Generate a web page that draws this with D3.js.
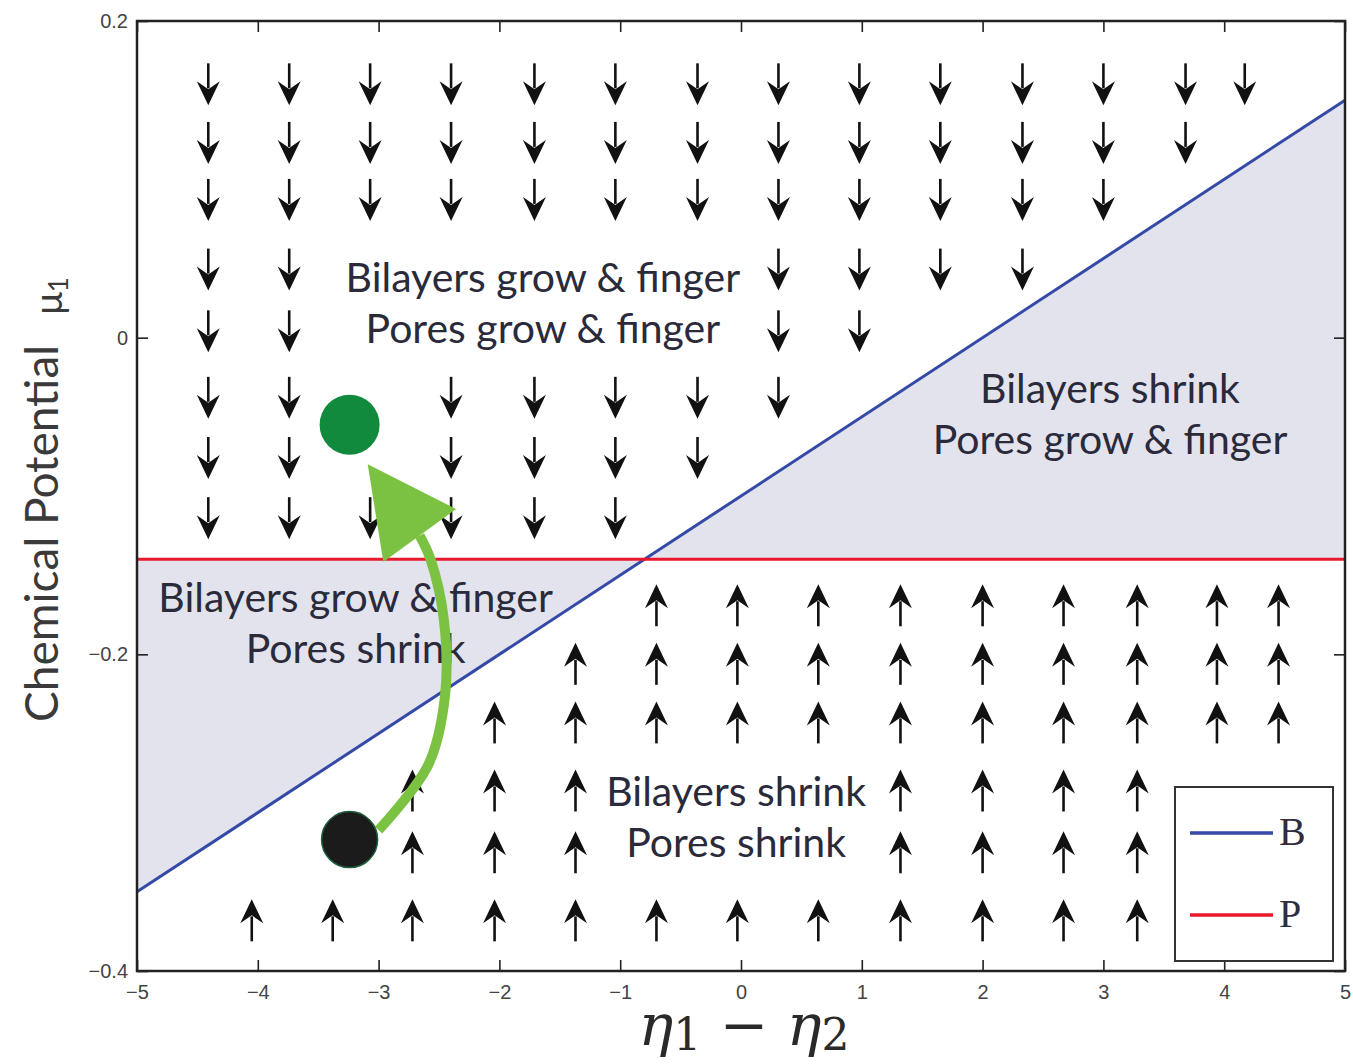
<!DOCTYPE html>
<html>
<head>
<meta charset="utf-8">
<script src="https://cdn.jsdelivr.net/npm/d3@7"></script>
<style>
  html, body { margin: 0; padding: 0; background: #fff; }
  svg { display: block; }
</style>
</head>
<body>
<div id="chart"></div>
<script>
// Data
const xTicks = [-5, -4, -3, -2, -1, 0, 1, 2, 3, 4, 5];
const yTicks = [-0.4, -0.2, 0, 0.2];

const boundaryB = [[-5, -0.35], [5, 0.15]]; // bilayer boundary
const levelP = -0.14; // pore boundary

// quiver arrows, one entry per row
const downRows = [
  { mu: 0.160, xs: [-4.41, -3.74, -3.07, -2.40, -1.71, -1.04, -0.36, 0.31, 0.98, 1.65, 2.33, 3.00, 3.68, 4.17] },
  { mu: 0.123, xs: [-4.41, -3.74, -3.07, -2.40, -1.71, -1.04, -0.36, 0.31, 0.98, 1.65, 2.33, 3.00, 3.68] },
  { mu: 0.087, xs: [-4.41, -3.74, -3.07, -2.40, -1.71, -1.04, -0.36, 0.31, 0.98, 1.65, 2.33, 3.00] },
  { mu: 0.043, xs: [-4.41, -3.74, 0.31, 0.98, 1.65, 2.33] },
  { mu: 0.004, xs: [-4.41, -3.74, 0.31, 0.98] },
  { mu: -0.038, xs: [-4.41, -3.74, -2.40, -1.71, -1.04, -0.36, 0.31] },
  { mu: -0.076, xs: [-4.41, -3.74, -2.40, -1.71, -1.04, -0.36] },
  { mu: -0.114, xs: [-4.41, -3.74, -3.07, -2.40, -1.71, -1.04] },
];
const upRows = [
  { mu: -0.169, xs: [-0.70, -0.03, 0.64, 1.32, 2.00, 2.67, 3.28, 3.94, 4.45] },
  { mu: -0.206, xs: [-1.37, -0.70, -0.03, 0.64, 1.32, 2.00, 2.67, 3.28, 3.94, 4.45] },
  { mu: -0.243, xs: [-2.04, -1.37, -0.70, -0.03, 0.64, 1.32, 2.00, 2.67, 3.28, 3.94, 4.45] },
  { mu: -0.286, xs: [-2.72, -2.04, -1.37, 1.32, 2.00, 2.67, 3.28] },
  { mu: -0.325, xs: [-2.72, -2.04, -1.37, 1.32, 2.00, 2.67, 3.28] },
  { mu: -0.368, xs: [-4.05, -3.38, -2.72, -2.04, -1.37, -0.70, -0.03, 0.64, 1.32, 2.00, 2.67, 3.28] },
];

const regionLabels = [
  { x: -1.64, mu: 0.029, lines: ["Bilayers grow & finger", "Pores grow & finger"] },
  { x: 3.055, mu: -0.041, lines: ["Bilayers shrink", "Pores grow & finger"] },
  { x: -3.19, mu: -0.173, lines: ["Bilayers grow & finger", "Pores shrink"] },
  { x: -0.04, mu: -0.296, lines: ["Bilayers shrink", "Pores shrink"] },
];

const startState = [-3.24, -0.317];
const endState = [-3.24, -0.055];
const trajectory = [[-3.00, -0.311], [-2.59, -0.270], [-2.45, -0.226], [-2.46, -0.178], [-2.57, -0.140], [-2.66, -0.125]];
const trajectoryTip = [-3.09, -0.080];

const legendItems = [
  { name: "B", color: "#3549a6" },
  { name: "P", color: "#e8192c" },
];

// Dimensions
const dimensions = {
  width: 1353,
  height: 1064,
  left: 137,
  right: 1345,
  top: 21,
  bottom: 971,
};

const svg = d3.select("#chart")
  .append("svg")
  .attr("width", dimensions.width)
  .attr("height", dimensions.height);

// Scales
const xScale = d3.scaleLinear().domain([-5, 5]).range([dimensions.left, dimensions.right]);
const yScale = d3.scaleLinear().domain([-0.4, 0.2]).range([dimensions.bottom, dimensions.top]);

// Shaded regions between B and P
const slope = (boundaryB[1][1] - boundaryB[0][1]) / (boundaryB[1][0] - boundaryB[0][0]);
const bAt = (x) => boundaryB[0][1] + slope * (x - boundaryB[0][0]);
const xCross = boundaryB[0][0] + (levelP - boundaryB[0][1]) / slope;

const area = d3.area()
  .x((d) => xScale(d))
  .y0(() => yScale(levelP))
  .y1((d) => yScale(bAt(d)));

svg.append("path")
  .datum([-5, xCross, 5])
  .attr("d", area)
  .attr("fill", "#e3e3ee");

// Boundaries
const line = d3.line().x((d) => xScale(d[0])).y((d) => yScale(d[1]));
svg.append("path")
  .datum(boundaryB)
  .attr("d", line)
  .attr("fill", "none")
  .attr("stroke", legendItems[0].color)
  .attr("stroke-width", 3);

svg.append("path")
  .datum([[-5, levelP], [5, levelP]])
  .attr("d", line)
  .attr("fill", "none")
  .attr("stroke", legendItems[1].color)
  .attr("stroke-width", 3);

// Arrows
function drawArrows(rows, angle) {
  const pts = rows.flatMap((r) => r.xs.map((x) => ({ x, mu: r.mu })));
  const g = svg.append("g")
    .selectAll("g")
    .data(pts)
    .join("g")
    .attr("transform", (d) => `translate(${xScale(d.x)},${yScale(d.mu)}) rotate(${angle})`);
  g.append("path")
    .attr("d", "M0,-21V4")
    .attr("stroke", "#111")
    .attr("stroke-width", 2.6);
  g.append("path")
    .attr("d", "M0,21L-11.5,-3L0,5L11.5,-3Z")
    .attr("fill", "#111");
}
drawArrows(downRows, 0);
drawArrows(upRows, 180);

// Region labels
svg.append("g")
  .selectAll("text")
  .data(regionLabels)
  .join("text")
  .attr("x", (d) => xScale(d.x))
  .attr("y", (d) => yScale(d.mu))
  .attr("text-anchor", "middle")
  .attr("font-family", "Lato, 'Open Sans', sans-serif")
  .attr("font-size", 41)
  .attr("fill", "#2a2a3a")
  .selectAll("tspan")
  .data((d) => d.lines.map((t, i) => ({ t, i, x: d.x })))
  .join("tspan")
  .attr("x", (d) => xScale(d.x))
  .attr("dy", (d) => (d.i === 0 ? 0 : 51))
  .text((d) => d.t);

// Trajectory arrow
const trajLine = d3.line()
  .x((d) => xScale(d[0]))
  .y((d) => yScale(d[1]))
  .curve(d3.curveCatmullRom);

svg.append("path")
  .datum(trajectory)
  .attr("d", trajLine)
  .attr("fill", "none")
  .attr("stroke", "#7cc242")
  .attr("stroke-width", 10);

const base = trajectory[trajectory.length - 1];
const bx = xScale(base[0]), by = yScale(base[1]);
const tx = xScale(trajectoryTip[0]), ty = yScale(trajectoryTip[1]);
const len = Math.hypot(tx - bx, ty - by);
const px = -(ty - by) / len, py = (tx - bx) / len;
const headHalf = 45;
svg.append("path")
  .attr("d", `M${tx},${ty}L${bx + px * headHalf},${by + py * headHalf}L${bx - px * headHalf},${by - py * headHalf}Z`)
  .attr("fill", "#7cc242");

// States
svg.append("circle")
  .attr("cx", xScale(endState[0]))
  .attr("cy", yScale(endState[1]))
  .attr("r", 30)
  .attr("fill", "#128a3e");

svg.append("circle")
  .attr("cx", xScale(startState[0]))
  .attr("cy", yScale(startState[1]))
  .attr("r", 28)
  .attr("fill", "#1b1b1b")
  .attr("stroke", "#1f5e3c")
  .attr("stroke-width", 1.5);

// Axes
const tickFont = "'Liberation Sans Narrow', 'Liberation Sans', sans-serif";
const yFormat = (d) => (d === 0 ? "0" : d3.format(".1f")(d));

const xAxis = d3.axisBottom(xScale).tickValues(xTicks).tickSize(-11).tickPadding(14);
const yAxis = d3.axisLeft(yScale).tickValues(yTicks).tickSize(-11).tickPadding(9).tickFormat(yFormat);
const xAxisTop = d3.axisTop(xScale).tickValues(xTicks).tickSize(-11).tickFormat("");
const yAxisRight = d3.axisRight(yScale).tickValues(yTicks).tickSize(-11).tickFormat("");

const axes = [
  svg.append("g").attr("transform", `translate(0,${dimensions.bottom})`).call(xAxis),
  svg.append("g").attr("transform", `translate(${dimensions.left},0)`).call(yAxis),
  svg.append("g").attr("transform", `translate(0,${dimensions.top})`).call(xAxisTop),
  svg.append("g").attr("transform", `translate(${dimensions.right},0)`).call(yAxisRight),
];
axes.forEach((a) => {
  a.select(".domain").remove();
  a.selectAll("line").attr("stroke", "#222").attr("stroke-width", 1.6);
  a.selectAll("text")
    .attr("font-family", tickFont)
    .attr("font-size", 20)
    .attr("fill", "#444");
});

svg.append("rect")
  .attr("x", dimensions.left)
  .attr("y", dimensions.top)
  .attr("width", dimensions.right - dimensions.left)
  .attr("height", dimensions.bottom - dimensions.top)
  .attr("fill", "none")
  .attr("stroke", "#222")
  .attr("stroke-width", 2.5);

// Axis titles
const xTitle = svg.append("text")
  .attr("x", 744)
  .attr("y", 1045)
  .attr("text-anchor", "middle")
  .attr("font-family", "'DejaVu Serif', 'Liberation Serif', serif")
  .attr("font-size", 58)
  .attr("fill", "#2a2a2a");
xTitle.append("tspan").attr("font-style", "italic").text("η");
xTitle.append("tspan").attr("font-size", 44).attr("dy", 5).text("1");
xTitle.append("tspan").attr("dy", -5).text(" − ");
xTitle.append("tspan").attr("font-style", "italic").text("η");
xTitle.append("tspan").attr("font-size", 44).attr("dy", 5).text("2");

const yTitle = svg.append("text")
  .attr("transform", "translate(58,722) rotate(-90)")
  .attr("font-family", "Lato, 'Open Sans', sans-serif")
  .attr("font-size", 46)
  .attr("fill", "#3a3a3a");
yTitle.append("tspan").text("Chemical Potential");
yTitle.append("tspan").attr("dx", 30).attr("font-size", 38).attr("dy", 4).text("μ");
yTitle.append("tspan").attr("font-size", 26).attr("dy", 6).text("1");

// Legend
const legend = svg.append("g").attr("transform", "translate(1175,787)");
legend.append("rect")
  .attr("width", 158)
  .attr("height", 174)
  .attr("fill", "#fff")
  .attr("stroke", "#333")
  .attr("stroke-width", 2);
const li = legend.selectAll("g")
  .data(legendItems)
  .join("g")
  .attr("transform", (d, i) => `translate(0,${46 + i * 82})`);
li.append("line")
  .attr("x1", 15)
  .attr("x2", 98)
  .attr("stroke", (d) => d.color)
  .attr("stroke-width", 3.5);
li.append("text")
  .attr("x", 104)
  .attr("y", 12)
  .attr("font-family", "'Liberation Serif', serif")
  .attr("font-size", 40)
  .attr("fill", "#2e2e40")
  .text((d) => d.name);
</script>
</body>
</html>
